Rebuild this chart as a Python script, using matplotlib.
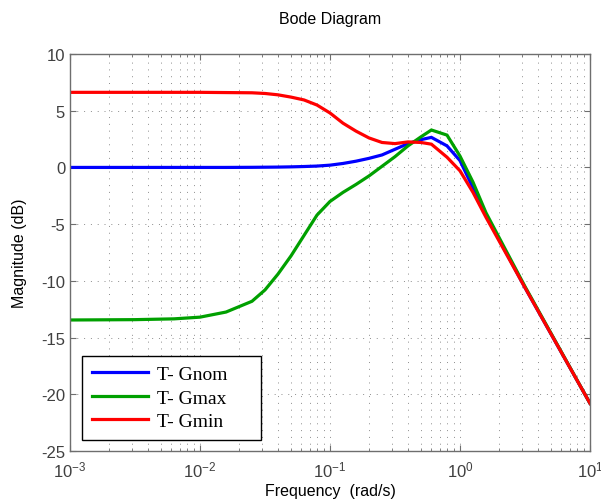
import numpy as np
import matplotlib
matplotlib.use("Agg")
import matplotlib.pyplot as plt
from matplotlib.ticker import LogLocator, NullFormatter

# ---- data ----
log_freq = [-3.0, -2.5, -2.2, -2.0, -1.8, -1.6, -1.5, -1.4, -1.3, -1.2, -1.1,
            -1.0, -0.9, -0.8, -0.7, -0.6, -0.5, -0.4, -0.3, -0.22, -0.1,
            0.0, 0.1, 0.2, 0.5, 1.0]
freq = [10 ** v for v in log_freq]

gnom = [0.0, 0.0, 0.0, 0.0, 0.0, 0.01, 0.02, 0.03, 0.05, 0.08, 0.12,
        0.2, 0.35, 0.55, 0.8, 1.1, 1.6, 2.1, 2.45, 2.65, 1.9,
        0.6, -1.8, -4.2, -10.6, -20.8]
gmax = [-13.45, -13.42, -13.35, -13.2, -12.75, -11.8, -10.8, -9.4, -7.8, -6.0, -4.2,
        -3.0, -2.2, -1.5, -0.75, 0.1, 0.95, 1.9, 2.7, 3.3, 2.85,
        1.0, -1.3, -4.0, -10.5, -20.8]
gmin = [6.62, 6.62, 6.62, 6.62, 6.6, 6.58, 6.52, 6.4, 6.2, 5.95, 5.5,
        4.8, 3.9, 3.2, 2.6, 2.2, 2.1, 2.25, 2.2, 2.05, 0.9,
        -0.3, -2.2, -4.4, -10.6, -20.8]

series_labels = ["T- Gnom", "T- Gmax", "T- Gmin"]
series_colors = ["#0000ff", "#00a000", "#ff0000"]
y_ticks = [10, 5, 0, -5, -10, -15, -20, -25]

plt.rcParams['font.family'] = ['Liberation Sans', 'DejaVu Sans']
plt.rcParams['mathtext.default'] = 'regular'
plt.rcParams['axes.unicode_minus'] = False

fig = plt.figure(figsize=(6.01, 5.02), dpi=100)
ax = fig.add_axes([70 / 601, 1 - 452 / 502, 520 / 601, 397 / 502])

for vals, lab, col in zip([gnom, gmax, gmin], series_labels, series_colors):
    ax.plot(freq, vals, color=col, lw=2.3, label=lab, solid_joinstyle='miter')

ax.set_xscale('log')
ax.set_xlim(1e-3, 1e1)
ax.set_ylim(-25, 10)
ax.set_yticks(y_ticks)
ax.xaxis.set_major_locator(LogLocator(base=10, numticks=10))
ax.xaxis.set_minor_locator(LogLocator(base=10, subs=np.arange(2, 10), numticks=100))
ax.xaxis.set_minor_formatter(NullFormatter())

grid_kw = dict(color='#8c8c8c', lw=0.7, linestyle=(0, (1, 6)))
ax.grid(True, which='major', axis='both', **grid_kw)
ax.grid(True, which='minor', axis='x', **grid_kw)

spine_col = '#6e6e6e'
for s in ax.spines.values():
    s.set_color(spine_col)
    s.set_linewidth(1.0)
ax.tick_params(which='both', direction='in', top=True, right=True,
               colors=spine_col, labelcolor='#404040', labelsize=12)
ax.tick_params(which='major', length=4)
ax.tick_params(which='minor', length=2.5)
ax.tick_params(axis='x', pad=6)

ax.set_xlabel('Frequency  (rad/s)', fontsize=11.5, color='black', labelpad=3)
ax.set_ylabel('Magnitude (dB)', fontsize=11.5, color='black', labelpad=10)
ax.set_title('Bode Diagram', fontsize=11.5, color='black', pad=22)

leg = ax.legend(loc='lower left', bbox_to_anchor=(0.023, 0.028, 0.344, 0.214),
                mode='expand',
                prop={'family': 'Liberation Serif', 'size': 14},
                frameon=True, fancybox=False, edgecolor='black',
                handlelength=2.9, handletextpad=0.45, borderpad=0.5,
                labelspacing=0.3, borderaxespad=0)
leg.get_frame().set_linewidth(1.0)
leg.get_frame().set_alpha(1)

fig.savefig('out.png', dpi=100)
